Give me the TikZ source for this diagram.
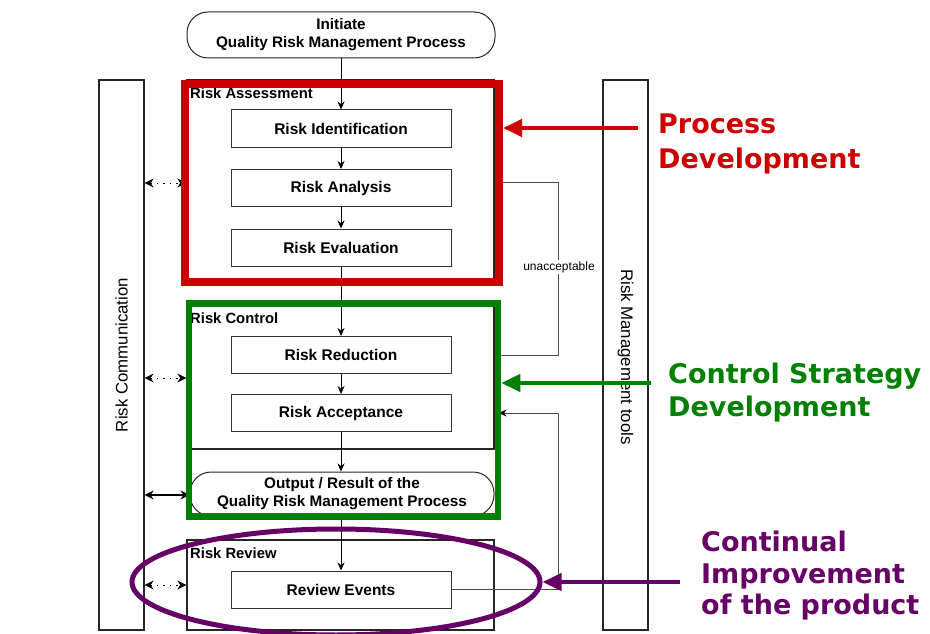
\documentclass[tikz,border=0pt]{standalone}
\usepackage{fontspec}
\setmainfont{Liberation Sans}
\newfontfamily\annfont{DejaVu Sans}
\usetikzlibrary{arrows.meta,shapes.geometric,calc}
\definecolor{qred}{HTML}{CC0000}
\definecolor{qgreen}{HTML}{008000}
\definecolor{qpurple}{HTML}{660066}
\begin{document}
\begin{tikzpicture}[x=1pt,y=-1pt,
  stepbox/.style={draw=black!80, line width=1pt, minimum width=220pt, minimum height=37pt, inner sep=0pt, fill=white, font=\fontsize{15.5}{18}\selectfont\bfseries},
  grpbox/.style={draw=black!85, line width=1.3pt, inner sep=0pt},
  stad/.style={draw=black!85, line width=1pt, rounded corners=21pt, inner sep=0pt, align=center, fill=white, font=\fontsize{15.3}{18}\selectfont\bfseries},
  side/.style={draw=black!85, line width=1.2pt, minimum width=45pt, minimum height=550pt, inner sep=0pt},
  vlabel/.style={font=\fontsize{16.8}{19}\selectfont, inner sep=0pt},
  grptitle/.style={font=\fontsize{14.8}{17}\selectfont\bfseries, anchor=base west, inner sep=0pt},
  flow/.style={-{Stealth[length=8pt,width=7pt]}, line width=0.9pt},
  comm/.style={{Stealth[length=9pt,width=9pt]}-{Stealth[length=9pt,width=9pt]}, line width=1pt, dash pattern=on 1.5pt off 5pt},
  solidcomm/.style={{Stealth[length=9pt,width=9pt]}-{Stealth[length=9pt,width=9pt]}, line width=1.6pt},
  fb/.style={draw=black!70, line width=0.9pt},
  ann/.style={anchor=north west, inner sep=0pt, align=left},
  annarrow/.style={-{Triangle[length=19pt,width=17pt]}, line width=4.5pt}
]
\useasboundingbox (0,0) rectangle (930,634);

% side bars
\node[side] (rcomm) at (121.5,355) {};
\node[vlabel, rotate=90] (rcommtxt) at (121.5,355) {Risk Communication};
\node[side] (rmt) at (625.5,355) {};
\node[vlabel, rotate=-90] (rmttxt) at (625.5,357) {Risk Management tools};

% start
\node[stad, minimum width=308pt, minimum height=46pt] (init) at (341,35) {Initiate\\Quality Risk Management Process};

% group boxes
\node[grpbox, minimum width=307pt, minimum height=201pt] (ra) at (340.5,180.5) {};
\node[grpbox, minimum width=307pt, minimum height=143pt] (rc) at (340.5,377.5) {};
\node[grpbox, minimum width=307pt, minimum height=90pt] (rv) at (340.5,585) {};
\node[grptitle] (tra) at (190,99) {Risk Assessment};
\node[grptitle] (trc) at (190,323) {Risk Control};
\node[grptitle] (trv) at (190,558) {Risk Review};

% steps
\node[stepbox] (ri) at (341,128.5) {Risk Identification};
\node[stepbox] (ran) at (341,188) {Risk Analysis};
\node[stepbox] (re) at (341,247.5) {Risk Evaluation};
\node[stepbox] (rr) at (341,355) {Risk Reduction};
\node[stepbox] (rac) at (341,413) {Risk Acceptance};
\node[stad, minimum width=304pt, minimum height=44pt] (out) at (342,494) {Output / Result of the\\Quality Risk Management Process};
\node[stepbox] (rev) at (341,589.5) {Review Events};

% flow
\draw[flow] (init) -- (ri);
\draw[flow] (ri) -- (ran);
\draw[flow] (ran) -- (re);
\draw[flow] (re) -- (rr);
\draw[flow] (rr) -- (rac);
\draw[flow] (rac) -- (out.north -| rac);
\draw[flow] (out.south -| rev) -- (rev);

% feedback loops
\draw[fb] (ra.east |- 0,182) -- (558,182) -- (558,355) -- (rc.east |- 0,355);
\node[font=\fontsize{12}{14}\selectfont, fill=white, inner sep=1.5pt] (unacc) at (559,267) {unacceptable};
\draw[fb, -{Stealth[length=8pt,width=7pt,color=black]}] (rev.east) -- (558,589.5) -- (558,413) -- ($(rc.east |- 0,413)+(4,0)$);

% communication arrows
\draw[comm] (rcomm.east |- 0,183) -- (ra.west |- 0,183);
\draw[comm] (rcomm.east |- 0,378) -- (rc.west |- 0,378);
\draw[solidcomm] (rcomm.east |- 0,495) -- (out.west |- 0,495);
\draw[comm] (rcomm.east |- 0,585) -- (rv.west |- 0,585);

% highlight frames
\node[draw=qred, line width=8pt, minimum width=314pt, minimum height=198pt, inner sep=0pt] (redbox) at (342,183) {};
\node[draw=qgreen, line width=6.5pt, minimum width=309pt, minimum height=213pt, inner sep=0pt] (grnbox) at (343.5,410) {};
\node[draw=qpurple, line width=5pt, ellipse, minimum width=408pt, minimum height=106pt, inner sep=0pt] (pell) at (336,582) {};

% annotations
\node[ann, text=qred, font=\annfont\fontsize{27}{35}\selectfont\bfseries] (tproc) at (658,114) {Process\\Development};
\node[ann, text=qgreen, font=\annfont\fontsize{27}{33}\selectfont\bfseries] (tctrl) at (668,363) {Control Strategy\\Development};
\node[ann, text=qpurple, font=\annfont\fontsize{27}{31.5}\selectfont\bfseries] (tcont) at (701,531) {Continual\\Improvement\\of the product};

\coordinate (redtail) at (638,128);
\coordinate (grntail) at (651,383);
\coordinate (purtail) at (680,582);
\draw[annarrow, qred] (redtail) -- (redbox.east |- redtail);
\draw[annarrow, qgreen] (grntail) -- (grnbox.east |- grntail);
\draw[annarrow, qpurple] (purtail) -- (pell.east);
\end{tikzpicture}
\end{document}
